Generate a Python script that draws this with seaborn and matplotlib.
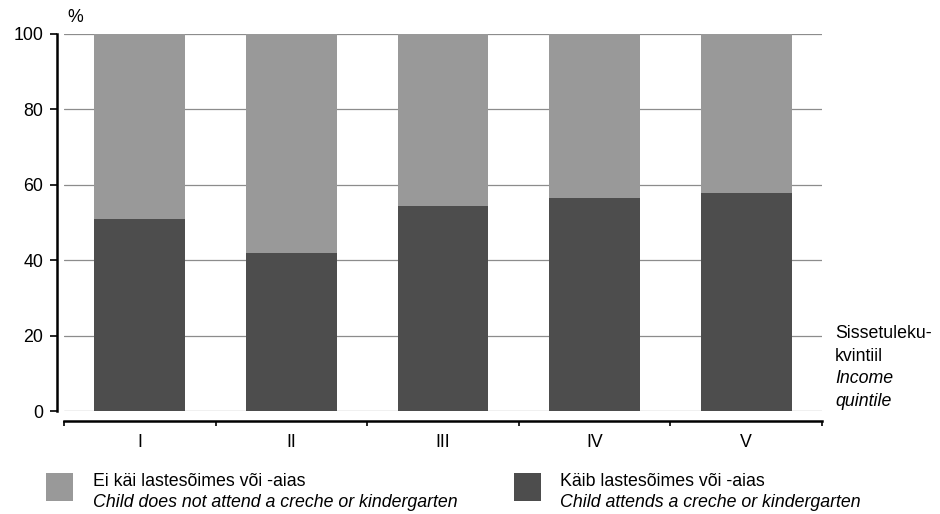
import matplotlib
matplotlib.use("Agg")
import matplotlib.pyplot as plt
from matplotlib.patches import Rectangle
import pandas as pd
import seaborn as sns

# data (% of children)
quintiles   = ["I", "II", "III", "IV", "V"]
attends     = [50.9, 41.9, 54.4, 56.5, 57.9]
not_attends = [49.1, 58.1, 45.6, 43.5, 42.1]
y_ticks     = [0, 20, 40, 60, 80, 100]

legend_et = ["Ei käi lastesõimes või -aias", "Käib lastesõimes või -aias"]
legend_en = ["Child does not attend a creche or kindergarten",
             "Child attends a creche or kindergarten"]

LIGHT = "#999999"
DARK  = "#4d4d4d"
W, H  = 940, 514
FS    = 12.8

sns.set_style("white")
plt.rcParams["font.family"] = ["Liberation Sans", "DejaVu Sans"]
plt.rcParams.update({"text.color": "black", "xtick.color": "black",
                     "ytick.color": "black", "axes.labelcolor": "black"})

df = pd.DataFrame({"quintile": quintiles, "attends": attends,
                   "not_attends": not_attends})
df["total"] = df["attends"] + df["not_attends"]

fig = plt.figure(figsize=(W / 100, H / 100), dpi=100)
ax  = fig.add_axes([64 / W, 103 / H, 758 / W, 377 / H])

# stacked bars: total in light grey, lower part in dark grey
sns.barplot(data=df, x="quintile", y="total", color=LIGHT, width=0.6,
            saturation=1, linewidth=0, edgecolor="none", ax=ax, zorder=2)
sns.barplot(data=df, x="quintile", y="attends", color=DARK, width=0.6,
            saturation=1, linewidth=0, edgecolor="none", ax=ax, zorder=3)

ax.set_xlabel(""); ax.set_ylabel("")
ax.set_xlim(-0.5, len(quintiles) - 0.5)
ax.set_ylim(0, 100)
ax.set_yticks(y_ticks)
ax.yaxis.grid(True, color="#8c8c8c", lw=0.9, zorder=0)
ax.xaxis.grid(False)
ax.set_axisbelow(True)
for gl in ax.get_ygridlines():
    gl.set_clip_on(False)

for s in ["top", "right"]:
    ax.spines[s].set_visible(False)
ax.spines["left"].set_position(("outward", 5))
ax.spines["left"].set_bounds(0, 100)
ax.spines["bottom"].set_position(("outward", 7.2))
ax.spines["bottom"].set_bounds(-0.5, len(quintiles) - 0.5)
for s in ["left", "bottom"]:
    ax.spines[s].set_color("black")
    ax.spines[s].set_linewidth(1.8)

ax.set_xticks(range(len(quintiles)))
ax.set_xticklabels(quintiles)
ax.set_xticks([i - 0.5 for i in range(len(quintiles) + 1)], minor=True)
ax.tick_params(axis="x", which="major", bottom=True, length=0, pad=9.4,
               labelsize=FS, labelcolor="black")
ax.tick_params(axis="x", which="minor", bottom=True, length=3.8, width=1.2,
               direction="out", color="black")
ax.tick_params(axis="y", which="major", left=True, length=5, width=1.2,
               direction="out", pad=5, labelsize=FS, color="black",
               labelcolor="black")


def px(x, y):
    return x / W, 1 - y / H


fig.text(*px(67, 17), "%", fontsize=FS, va="center", ha="left")

side = [("Sissetuleku-", "normal"), ("kvintiil", "normal"),
        ("Income", "italic"), ("quintile", "italic")]
for i, (t, st) in enumerate(side):
    fig.text(*px(835, 338 + i * 22.7), t, fontsize=FS, style=st,
             va="baseline", ha="left")

for x0, tx, col, et, en in zip([46, 514], [93, 560], [LIGHT, DARK],
                               legend_et, legend_en):
    fig.add_artist(Rectangle(px(x0, 501), 27 / W, 28 / H,
                             transform=fig.transFigure, color=col, lw=0))
    fig.text(*px(tx, 486), et, fontsize=FS, va="baseline", ha="left")
    fig.text(*px(tx, 507), en, fontsize=FS, style="italic",
             va="baseline", ha="left")

fig.savefig("out.png", dpi=100)
